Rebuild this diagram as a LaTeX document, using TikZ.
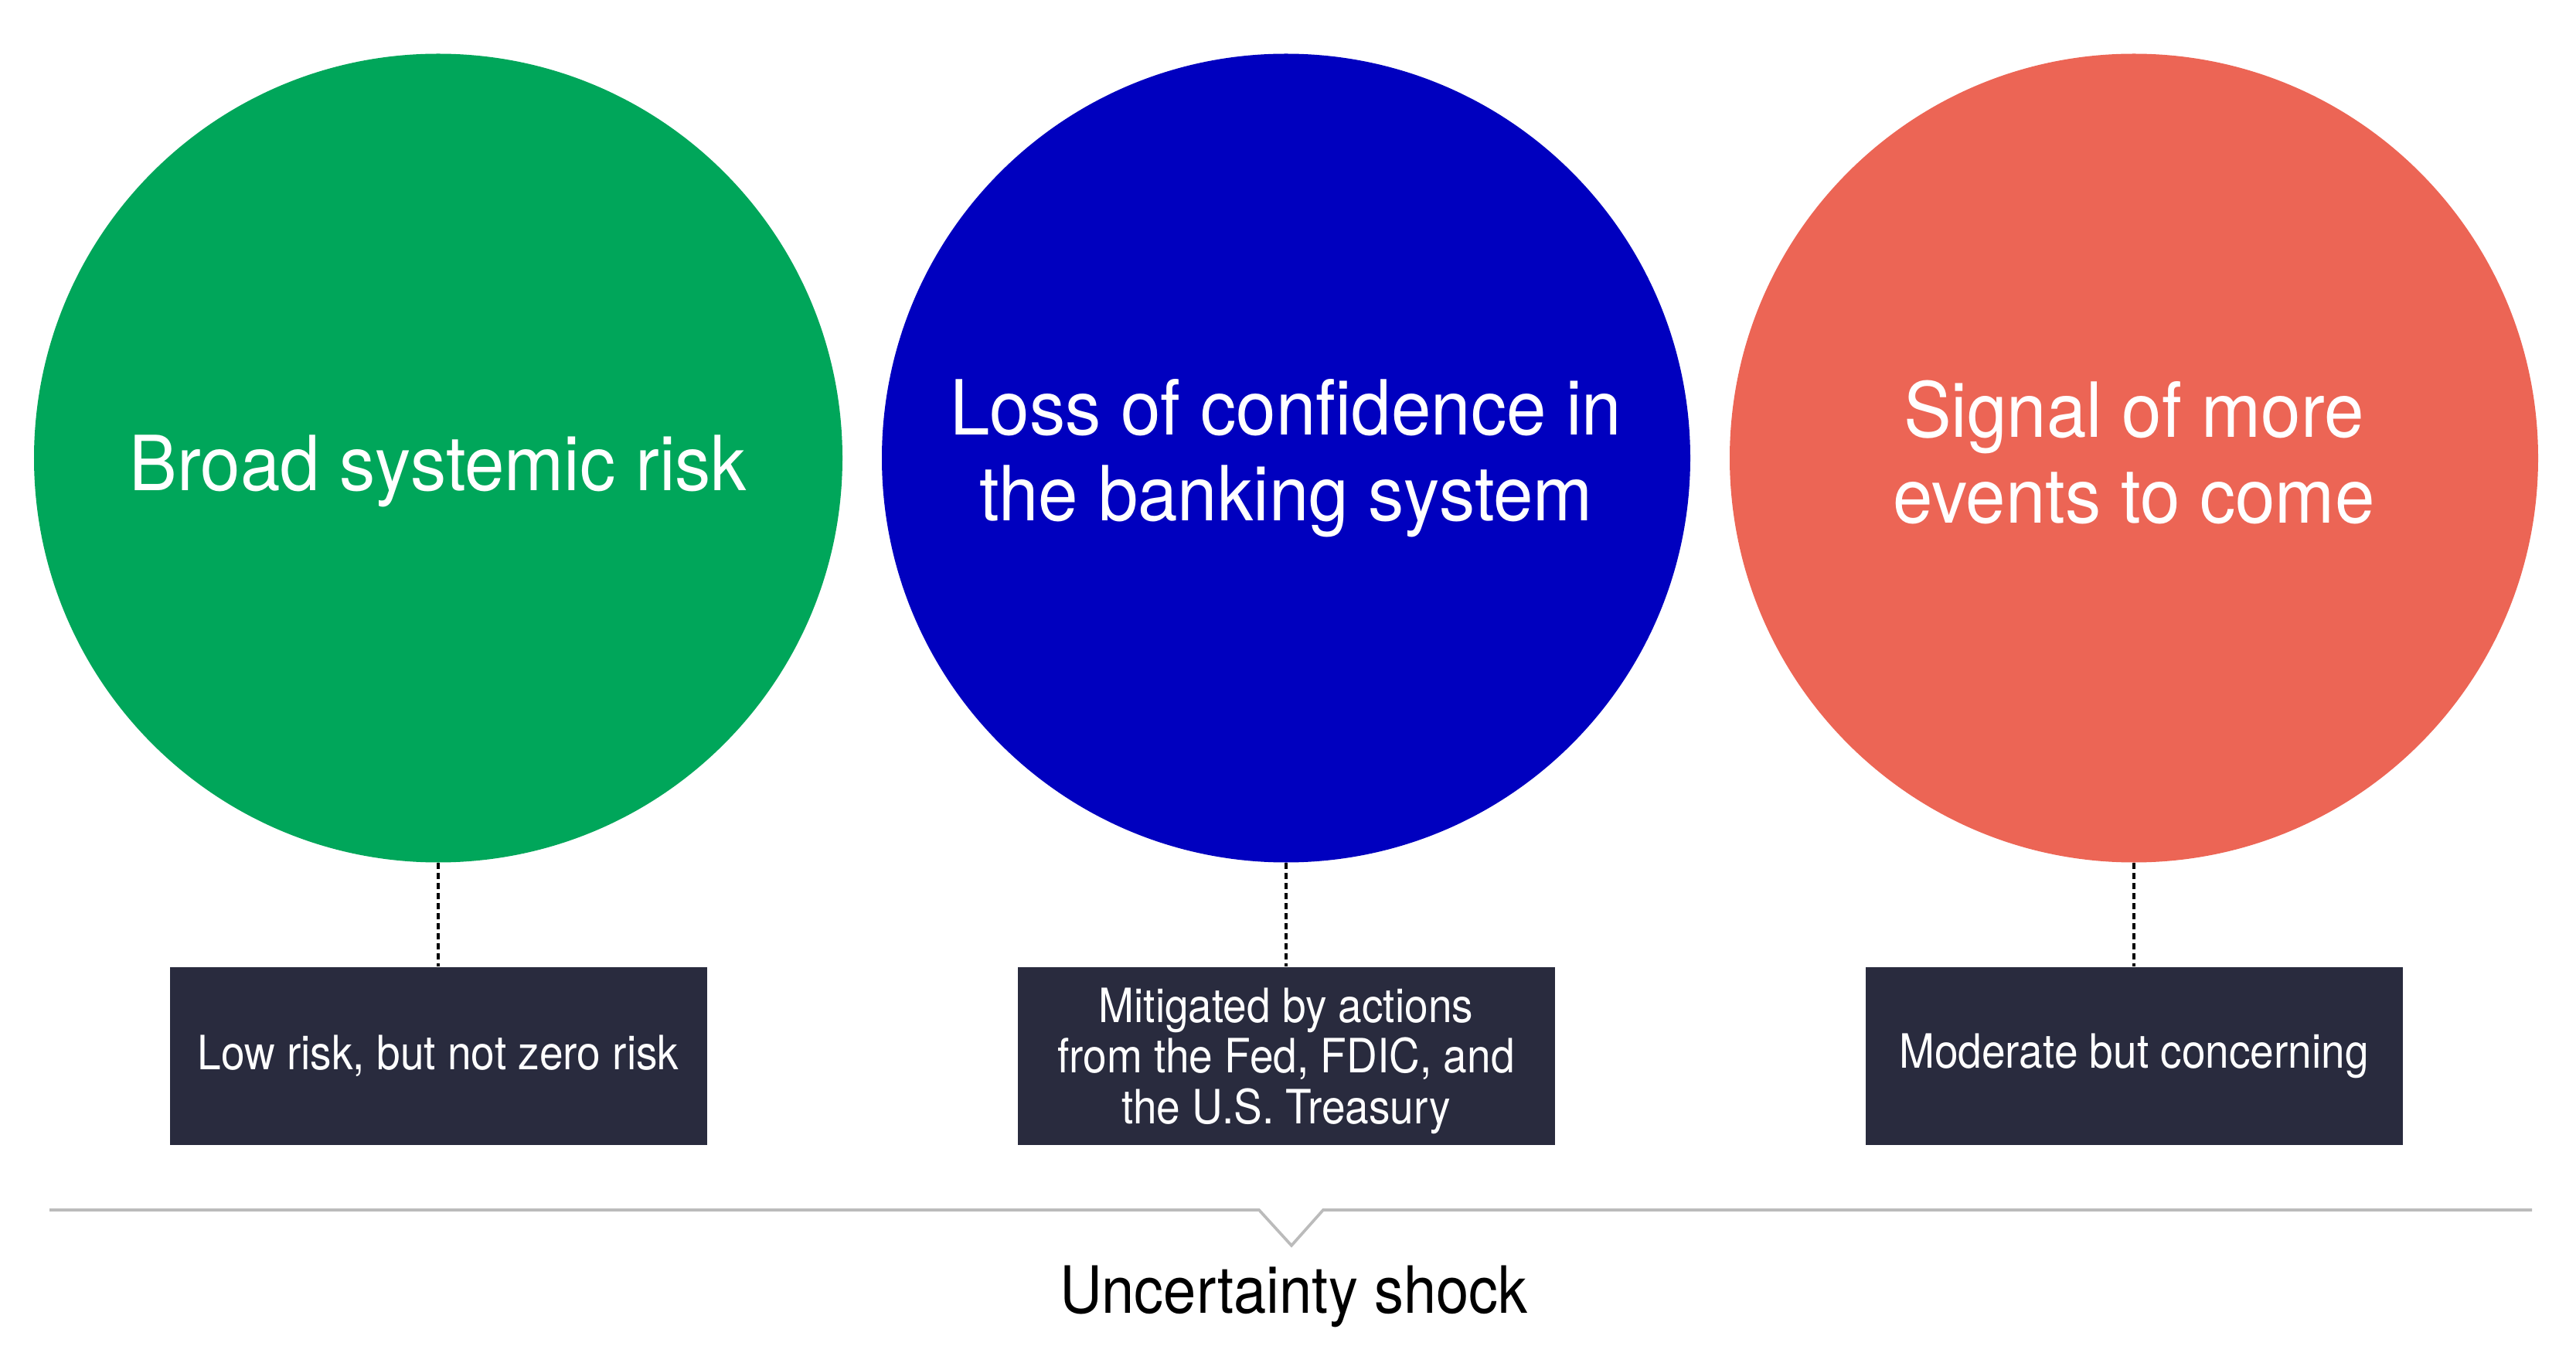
\documentclass[tikz,border=0pt]{standalone}
\usepackage{fontspec}
\setmainfont{TeX Gyre Heros}[FakeStretch=0.90]
\newfontfamily\bubblefont{TeX Gyre Heros}[FakeStretch=0.94]
\definecolor{riskgreen}{HTML}{00A65A}
\definecolor{riskblue}{HTML}{0000BF}
\definecolor{riskred}{HTML}{EC6555}
\definecolor{boxnavy}{HTML}{292B3E}
\definecolor{shockgray}{HTML}{BBBBBB}
\begin{document}
\begin{tikzpicture}[every node/.style={text=white,align=center},
	bubble/.style={circle,minimum size=10.46cm,inner sep=0pt,
	  font=\bubblefont\fontsize{28}{31.6}\selectfont},
	note/.style={fill=boxnavy,minimum width=6.95cm,minimum height=2.3cm,
	  inner sep=0pt,font=\fontsize{17.4}{18.6}\selectfont}]
      \useasboundingbox (0,0) rectangle (33.33,17.71);
      \node [bubble,fill=riskgreen,text height=0.85cm,text depth=0pt] (b1) at (5.67,11.785)  {Broad systemic risk};
      \node [bubble,fill=riskblue]  (b2) at (16.64,11.785) {Loss of confidence in\\the banking system};
      \node [bubble,fill=riskred,text depth=0.16cm] (b3) at (27.61,11.785) {Signal of more\\events to come};
      \node [note] (n1) at (5.67,4.05)  {Low risk, but not zero risk};
      \node [note,text depth=0.01cm] (n2) at (16.64,4.05) {Mitigated by actions\\from the Fed, FDIC, and\\the U.S. Treasury};
      \node [note] (n3) at (27.61,4.05) {Moderate but concerning};
      
      \draw [black,line width=0.04cm,dash pattern=on 0.08cm off 0.05cm] (b1.south) -- (n1.north);
      \draw [black,line width=0.04cm,dash pattern=on 0.08cm off 0.05cm] (b2.south) -- (n2.north);
      \draw [black,line width=0.04cm,dash pattern=on 0.08cm off 0.05cm] (b3.south) -- (n3.north);
      
      \coordinate (left) at (0.64,2.06);
      \coordinate (tip) at (16.71,1.60);
      \coordinate (right) at (32.76,2.06);
      \draw [shockgray,line width=0.037cm] (left) -- (16.29,2.06) -- (tip) -- (17.12,2.06) -- (right);
      \node [text=black,anchor=base,font=\fontsize{24}{28}\selectfont] (shock) at (16.74,0.73) {Uncertainty shock};
    \end{tikzpicture}
\end{document}
